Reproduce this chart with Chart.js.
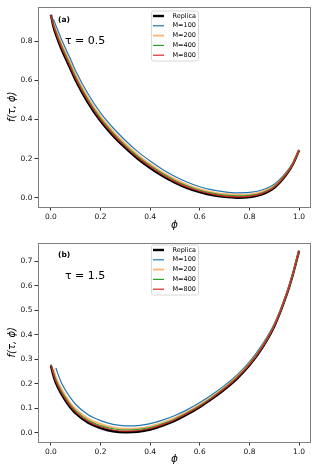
<!DOCTYPE html>
<html>
<head>
<meta charset="utf-8">
<script src="https://cdn.jsdelivr.net/npm/chart.js@4.4.1/dist/chart.umd.min.js"></script>
<style>
  html, body { margin: 0; padding: 0; background: #fff; }
  #wrap { position: relative; width: 317px; height: 476px; }
  canvas { position: absolute; left: 0; }
</style>
</head>
<body>
<div id="wrap">
  <canvas id="grafA" width="317" height="236" style="top:0"></canvas>
  <canvas id="grafB" width="317" height="240" style="top:236px"></canvas>
</div>
<script>
// hodnoty phi (osa x), spolecne pro obe casti
const phi = [0, 0.01, 0.02, 0.04, 0.06, 0.08, 0.1, 0.15, 0.2, 0.25, 0.3, 0.35, 0.4, 0.45, 0.5, 0.55, 0.6, 0.65, 0.7, 0.75, 0.8, 0.85, 0.9, 0.95, 0.975, 1.0];

const seriesNames = ['Replica', 'M=100', 'M=200', 'M=400', 'M=800'];
const seriesColors = ['#000000', '#1f77b4', 'rgba(255,127,14,0.6)', '#2ca02c', '#d62728'];
const seriesWidths = [2.4, 1.2, 1.8, 1.2, 1.2];

// (a) tau = 0.5
const replicaA = [0.935, 0.875, 0.835, 0.768, 0.71, 0.655, 0.6, 0.485, 0.392, 0.318, 0.255, 0.2, 0.153, 0.112, 0.078, 0.05, 0.029, 0.014, 0.005, 0.001, 0.004, 0.018, 0.052, 0.122, 0.172, 0.243];
const m100A = [null, 0.912, 0.88, 0.818, 0.76, 0.705, 0.648, 0.53, 0.434, 0.358, 0.293, 0.236, 0.188, 0.145, 0.109, 0.08, 0.057, 0.041, 0.031, 0.026, 0.028, 0.04, 0.07, 0.134, 0.18, 0.246];
const m200A = [null, 0.896, 0.861, 0.797, 0.739, 0.684, 0.628, 0.511, 0.416, 0.341, 0.277, 0.221, 0.173, 0.131, 0.096, 0.067, 0.045, 0.03, 0.02, 0.016, 0.018, 0.031, 0.062, 0.129, 0.177, 0.245];
const m400A = [0.93, 0.888, 0.851, 0.786, 0.728, 0.673, 0.617, 0.501, 0.407, 0.332, 0.268, 0.213, 0.165, 0.124, 0.089, 0.061, 0.039, 0.024, 0.014, 0.01, 0.013, 0.026, 0.058, 0.126, 0.175, 0.244];
const m800A = [0.933, 0.881, 0.843, 0.777, 0.719, 0.664, 0.608, 0.493, 0.399, 0.325, 0.262, 0.206, 0.159, 0.118, 0.083, 0.055, 0.034, 0.019, 0.009, 0.005, 0.008, 0.022, 0.055, 0.124, 0.173, 0.243];

// (b) tau = 1.5
const replicaB = [0.275, 0.235, 0.205, 0.163, 0.13, 0.102, 0.08, 0.042, 0.02, 0.007, 0.003, 0.005, 0.014, 0.03, 0.05, 0.076, 0.106, 0.14, 0.178, 0.222, 0.276, 0.345, 0.435, 0.565, 0.647, 0.743];
const m100B = [null, null, 0.265, 0.21, 0.172, 0.142, 0.116, 0.074, 0.05, 0.035, 0.029, 0.03, 0.038, 0.052, 0.071, 0.095, 0.124, 0.157, 0.194, 0.237, 0.29, 0.358, 0.445, 0.572, 0.652, 0.745];
const m200B = [null, 0.262, 0.228, 0.185, 0.15, 0.12, 0.098, 0.059, 0.037, 0.023, 0.017, 0.019, 0.027, 0.042, 0.062, 0.086, 0.116, 0.149, 0.187, 0.231, 0.284, 0.352, 0.44, 0.569, 0.65, 0.744];
const m400B = [0.28, 0.248, 0.218, 0.176, 0.142, 0.113, 0.091, 0.052, 0.03, 0.017, 0.012, 0.014, 0.022, 0.038, 0.057, 0.083, 0.112, 0.146, 0.184, 0.227, 0.281, 0.349, 0.438, 0.567, 0.648, 0.743];
const m800B = [0.278, 0.241, 0.211, 0.169, 0.136, 0.107, 0.085, 0.047, 0.025, 0.012, 0.007, 0.009, 0.018, 0.034, 0.054, 0.08, 0.109, 0.143, 0.181, 0.225, 0.279, 0.347, 0.437, 0.566, 0.648, 0.743];

const xTicks = [0, 0.2, 0.4, 0.6, 0.8, 1.0];
const yTicksA = [0, 0.2, 0.4, 0.6, 0.8];
const yTicksB = [0, 0.1, 0.2, 0.3, 0.4, 0.5, 0.6, 0.7];

const FONT = "'DejaVu Sans', sans-serif";

function makeDatasets(rows) {
    return rows.map((arr, i) => ({
        label: seriesNames[i],
        data: phi.map((x, j) => ({ x: x, y: arr[j] })).filter(p => p.y !== null),
        borderColor: seriesColors[i],
        borderWidth: seriesWidths[i],
        pointRadius: 0,
        fill: false,
        cubicInterpolationMode: 'monotone',
        order: 5 - i
    }));
}

// ramecek kolem grafu + legenda + popisky
const ozdoby = {
    id: 'ozdoby',
    afterDatasetsDraw(chart, args, opts) {
        const ctx = chart.ctx;
        const a = chart.chartArea;
        ctx.save();
        ctx.strokeStyle = '#808080';
        ctx.lineWidth = 1;
        ctx.strokeRect(Math.round(a.left) + 0.5, Math.round(a.top) + 0.5,
            Math.round(a.right - a.left) - 1, Math.round(a.bottom - a.top) - 1);

        // legenda
        const lx = 151, ly = a.top + opts.legendTop;
        ctx.fillStyle = '#fff';
        ctx.strokeStyle = '#d8d8d8';
        ctx.beginPath();
        ctx.roundRect(lx + 0.5, ly + 0.5, 47, 50, 2);
        ctx.fill();
        ctx.stroke();
        ctx.font = '6.5px ' + FONT;
        ctx.textBaseline = 'middle';
        chart.data.datasets.forEach((ds, i) => {
            const y = ly + 5.5 + i * 9.8;
            ctx.strokeStyle = ds.borderColor;
            ctx.lineWidth = ds.borderWidth;
            ctx.beginPath();
            ctx.moveTo(lx + 2, y);
            ctx.lineTo(lx + 13, y);
            ctx.stroke();
            ctx.fillStyle = '#000';
            ctx.fillText(ds.label, lx + 21.5, y);
        });

        ctx.fillStyle = '#000';
        ctx.font = 'bold 7.5px ' + FONT;
        ctx.fillText(opts.panel, 58, opts.panelY);
        ctx.font = '11px ' + FONT;
        ctx.fillText(opts.tau, 65, opts.tauY);
        ctx.restore();
    }
};

function makeChart(id, rows, yMin, yMax, yTicks, xHeight, xTitlePad, extra) {
    return new Chart(document.getElementById(id), {
        type: 'line',
        data: { datasets: makeDatasets(rows) },
        plugins: [ozdoby],
        options: {
            responsive: false,
            animation: false,
            devicePixelRatio: 1,
            layout: { padding: { top: 5, right: 6, left: 0, bottom: 0 } },
            plugins: {
                legend: { display: false },
                tooltip: { enabled: false },
                ozdoby: extra
            },
            scales: {
                x: {
                    type: 'linear',
                    min: -0.052,
                    max: 1.048,
                    afterBuildTicks: s => { s.ticks = xTicks.map(v => ({ value: v })); },
                    afterFit: s => { s.height = xHeight; },
                    border: { display: false },
                    grid: { drawOnChartArea: false, drawTicks: true, tickLength: 3.5, color: '#333' },
                    ticks: { autoSkip: false, maxRotation: 0, padding: 2, color: '#111',
                        font: { family: FONT, size: 7.5 }, callback: v => v.toFixed(1) },
                    title: { display: true, text: 'ϕ', color: '#000',
                        font: { family: FONT, size: 10.5, style: 'italic' },
                        padding: { top: 0, bottom: xTitlePad } }
                },
                y: {
                    type: 'linear',
                    min: yMin,
                    max: yMax,
                    afterBuildTicks: s => { s.ticks = yTicks.map(v => ({ value: v })); },
                    afterFit: s => { s.width = 38; },
                    border: { display: false },
                    grid: { drawOnChartArea: false, drawTicks: true, tickLength: 3.5, color: '#333' },
                    ticks: { autoSkip: false, padding: 2, color: '#111',
                        font: { family: FONT, size: 7.5 }, callback: v => v.toFixed(1) },
                    title: { display: true, text: 'f(τ, ϕ)', color: '#000',
                        font: { family: FONT, size: 10, style: 'italic' },
                        padding: { top: 6, bottom: 0 } }
                }
            }
        }
    });
}

makeChart('grafA', [replicaA, m100A, m200A, m400A, m800A], -0.0465, 0.977, yTicksA, 29, 4,
    { panel: '(a)', panelY: 20, tau: 'τ = 0.5', tauY: 41, legendTop: 4 });
makeChart('grafB', [replicaB, m100B, m200B, m400B, m800B], -0.037, 0.777, yTicksB, 34, 10,
    { panel: '(b)', panelY: 19, tau: 'τ = 1.5', tauY: 40, legendTop: 2 });
</script>
</body>
</html>
